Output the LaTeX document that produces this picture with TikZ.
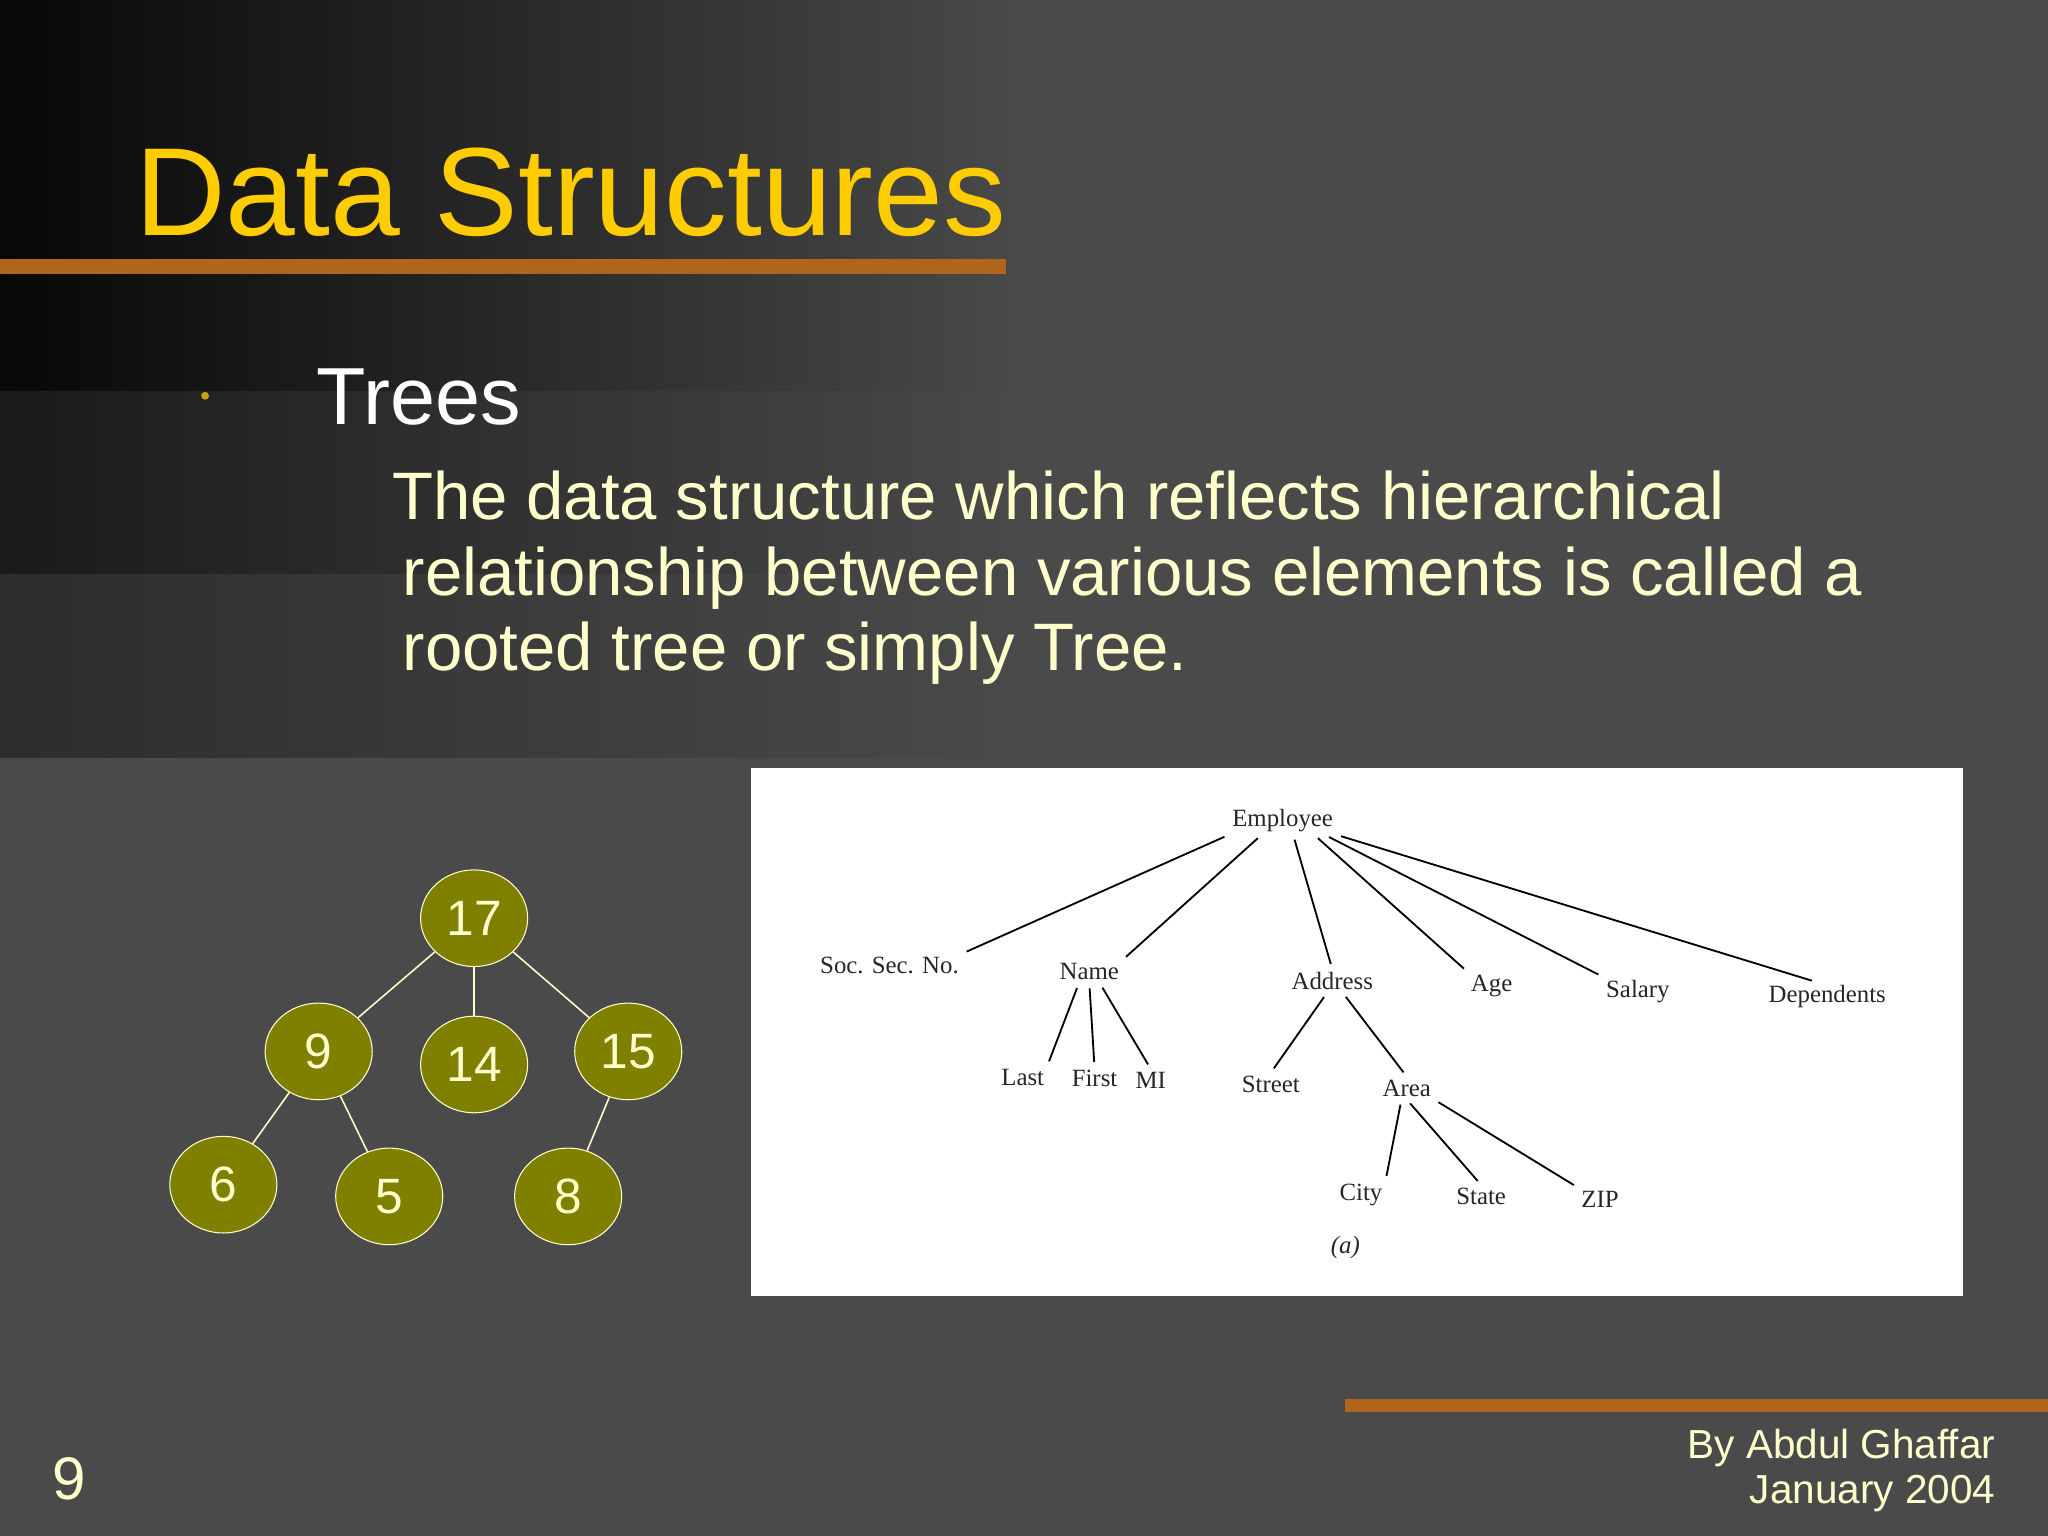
\documentclass[tikz,border=0pt]{standalone}
\usepackage{fontspec}
\setmainfont{Liberation Sans}
\newfontfamily\serifx{Liberation Serif}
\usetikzlibrary{shapes.geometric}
\definecolor{bg}{HTML}{4A4A4A}
\definecolor{ttl}{HTML}{FFCC00}
\definecolor{txt}{HTML}{FFFFCC}
\definecolor{olive}{HTML}{808000}
\definecolor{barc}{HTML}{B0641C}
\begin{document}
\begin{tikzpicture}[x=0.5pt,y=-0.5pt,
 circ/.style={ellipse,draw=txt,fill=olive,minimum width=41pt,minimum height=37pt,inner sep=0pt,text=txt,font=\fontsize{19}{19}\selectfont},
 tl/.style={draw=txt,line width=0.6pt},
 emp/.style={font=\serifx\fontsize{9.5}{10}\selectfont,inner sep=1pt,text=black!85},
 el/.style={draw=black,line width=0.7pt,shorten <=2pt,shorten >=2pt}]
\fill[bg] (0,0) rectangle (1568,1176);
\begin{scope}[y=0.5pt]
\shade[left color=bg!10!black,right color=bg] (0,-300) rectangle (790,0);
\shade[left color=bg!35!black,right color=bg] (0,-440) rectangle (790,-300);
\shade[left color=bg!60!black,right color=bg] (0,-580) rectangle (790,-440);
\end{scope}
\node[anchor=base west,text=ttl,font=\fontsize{48}{48}\selectfont,inner sep=0] (title) at (103,180) {Data Structures};
\fill[barc] (0,198) rectangle (770,210);
\fill[barc] (1030,1071) rectangle (1568,1081);
\fill[ttl!80!black] (157,303) circle (3);
\node[anchor=base west,text=white,font=\fontsize{31}{31}\selectfont,inner sep=0] (trees) at (242,325) {Trees};
\node[anchor=base west,text=txt,font=\fontsize{25.7}{26}\selectfont,inner sep=0] (p1) at (300,398) {The data structure which reflects hierarchical};
\node[anchor=base west,text=txt,font=\fontsize{25.7}{26}\selectfont,inner sep=0] (p2) at (308,456) {relationship between various elements is called a};
\node[anchor=base west,text=txt,font=\fontsize{25.7}{26}\selectfont,inner sep=0] (p3) at (308,513) {rooted tree or simply Tree.};
% circle tree
\node[circ] (n17) at (363,703) {17};
\node[circ] (n9) at (244,805) {9};
\node[circ] (n14) at (363,815) {14};
\node[circ] (n15) at (481,805) {15};
\node[circ] (n6) at (171,907) {6};
\node[circ] (n5) at (298,916) {5};
\node[circ] (n8) at (435,916) {8};
\draw[tl] (n17)--(n9); \draw[tl] (n17)--(n14); \draw[tl] (n17)--(n15);
\draw[tl] (n9)--(n6); \draw[tl] (n9)--(n5); \draw[tl] (n15)--(n8);
% employee
\fill[white] (575,588) rectangle (1503,992);
\node[emp] (e) at (982,628) {Employee};
\node[emp] (ssn) at (681,739) {Soc. Sec. No.};
\node[emp] (nm) at (834,744) {Name};
\node[emp] (ad) at (1020,751) {Address};
\node[emp] (ag) at (1142,755) {Age};
\node[emp] (sa) at (1254,759) {Salary};
\node[emp] (de) at (1399,763) {Dependents};
\node[emp] (la) at (783,825) {Last};
\node[emp] (fi) at (838,826) {First};
\node[emp] (mi) at (881,827) {MI};
\node[emp] (st) at (973,830) {Street};
\node[emp] (ar) at (1077,833) {Area};
\node[emp] (ci) at (1042,915) {City};
\node[emp] (sta) at (1134,916) {State};
\node[emp] (zi) at (1225,918) {ZIP};
\node[emp] (a) at (1030,955) {\textit{(a)}};
\draw[el] (e.south west)--(ssn.north east);
\draw[el] ([xshift=-8pt]e.south)--(nm.north east);
\draw[el] ([xshift=4pt]e.south)--(ad.north);
\draw[el] ([xshift=12pt]e.south)--(ag.north west);
\draw[el] ([xshift=16pt]e.south)--(sa.north west);
\draw[el] (e.south east)--([xshift=-4pt]de.north);
\draw[el] ([xshift=-4pt]nm.south)--(la.north east);
\draw[el] (nm.south)--(fi.north);
\draw[el] ([xshift=4pt]nm.south)--(mi.north);
\draw[el] ([xshift=-2pt]ad.south)--(st.north);
\draw[el] ([xshift=4pt]ad.south)--(ar.north);
\draw[el] ([xshift=-2pt]ar.south)--(ci.north east);
\draw[el] (ar.south)--(sta.north);
\draw[el] (ar.south east)--(zi.north west);
% footer
\node[anchor=base west,text=txt,font=\fontsize{23}{23}\selectfont,inner sep=0] (pg) at (40,1148) {9};
\node[anchor=base east,text=txt,font=\fontsize{15.5}{16}\selectfont,inner sep=0] (c1) at (1528,1117) {By Abdul Ghaffar};
\node[anchor=base east,text=txt,font=\fontsize{15.5}{16}\selectfont,inner sep=0] (c2) at (1528,1151) {January 2004};
\end{tikzpicture}
\end{document}
